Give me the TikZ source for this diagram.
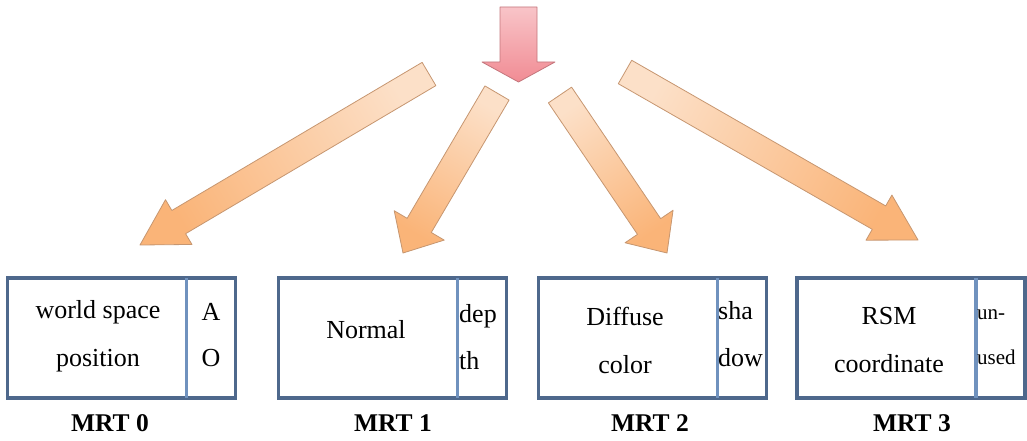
\documentclass[tikz,border=0pt]{standalone}
\usepackage{fontspec}
\setmainfont{Liberation Serif}
\usetikzlibrary{calc}
\definecolor{boxedge}{RGB}{78,104,140}
\definecolor{splitline}{RGB}{112,146,190}
\definecolor{orlight}{RGB}{252,224,200}
\definecolor{ordark}{RGB}{250,180,120}
\definecolor{oredge}{RGB}{198,150,112}
\definecolor{pklight}{RGB}{248,196,200}
\definecolor{pkdark}{RGB}{241,140,148}
\definecolor{pkedge}{RGB}{196,118,124}
\tikzset{
  orarrow/.style={draw=oredge, line width=0.8pt, line join=round, top color=orlight, bottom color=ordark},
  pkarrow/.style={draw=pkedge, line width=0.8pt, line join=round, top color=pklight, bottom color=pkdark},
  mrtbox/.style={draw=boxedge, line width=3.5pt, minimum width=228pt, minimum height=120pt, inner sep=0pt, outer sep=0pt},
  divider/.style={draw=splitline, line width=3.2pt},
  bigtext/.style={font=\fontsize{26}{48}\selectfont, align=center, inner sep=0pt},
  sidetext/.style={font=\fontsize{26}{47}\selectfont, align=left, anchor=west, inner sep=0pt},
  mrtlabel/.style={font=\fontsize{25.5}{30}\selectfont\bfseries, inner sep=0pt}
}
% block arrow: style, tail, tip, half shaft, half head, head length, shading angle
\newcommand{\barrow}[7]{\coordinate (hb) at ($(#3)!#6!(#2)$);
  \draw[#1, shading angle=#7] ($(#2)!#4!90:(#3)$) -- ($(hb)!#4!90:(#3)$) -- ($(hb)!#5!90:(#3)$) -- (#3)
    -- ($(hb)!#5!-90:(#3)$) -- ($(hb)!#4!-90:(#3)$) -- ($(#2)!#4!-90:(#3)$) -- cycle;}
\newcommand{\split}[1]{\draw[divider] ([xshift=-49pt]#1.north east) -- ([xshift=-49pt]#1.south east);}

\begin{document}
\begin{tikzpicture}[x=1pt, y=-1pt]
  \useasboundingbox (0,0) rectangle (1027,441);
  \coordinate (pt) at (518.5,7);   \coordinate (ph) at (518.5,82);
  \coordinate (t0) at (429,74);    \coordinate (h0) at (140,245);
  \coordinate (t1) at (497,93);    \coordinate (h1) at (403,253);
  \coordinate (t2) at (560,95);    \coordinate (h2) at (667,253);
  \coordinate (t3) at (625,72);    \coordinate (h3) at (918,240);
  \barrow{pkarrow}{pt}{ph}{18.5pt}{36.5pt}{20pt}{0}   % input
  \barrow{orarrow}{t0}{h0}{13.5pt}{26pt}{45pt}{300.6} % to MRT 0
  \barrow{orarrow}{t1}{h1}{14pt}{29pt}{32pt}{329.6}   % to MRT 1
  \barrow{orarrow}{t2}{h2}{14pt}{29pt}{32pt}{34.1}    % to MRT 2
  \barrow{orarrow}{t3}{h3}{13.5pt}{26pt}{45pt}{60.2}  % to MRT 3

  \node[mrtbox] (m0) at (121.5,338) {}; \split{m0}
  \node[bigtext] (w0) at (98,336) {world space\\position};
  \node[bigtext, font=\fontsize{26}{46}\selectfont] (s0) at (211,335) {A\\O};
  \node[mrtlabel] (l0) at (110,423) {MRT 0};

  \node[mrtbox] (m1) at (392.5,338) {}; \split{m1}
  \node[bigtext] (w1) at (366,330) {Normal};
  \node[sidetext] (s1) at (459,337) {dep\\th};
  \node[mrtlabel] (l1) at (393,423) {MRT 1};

  \node[mrtbox] (m2) at (652.5,338) {}; \split{m2}
  \node[bigtext] (w2) at (625,340) {Diffuse\\color};
  \node[sidetext] (s2) at (718,334) {sha\\dow};
  \node[mrtlabel] (l2) at (650,423) {MRT 2};

  \node[mrtbox] (m3) at (911,338) {}; \split{m3}
  \node[bigtext] (w3) at (889,340) {RSM\\coordinate};
  \node[sidetext, font=\fontsize{21}{45}\selectfont] (s3) at (977,337) {un-\\used};
  \node[mrtlabel] (l3) at (912,423) {MRT 3};
\end{tikzpicture}
\end{document}
